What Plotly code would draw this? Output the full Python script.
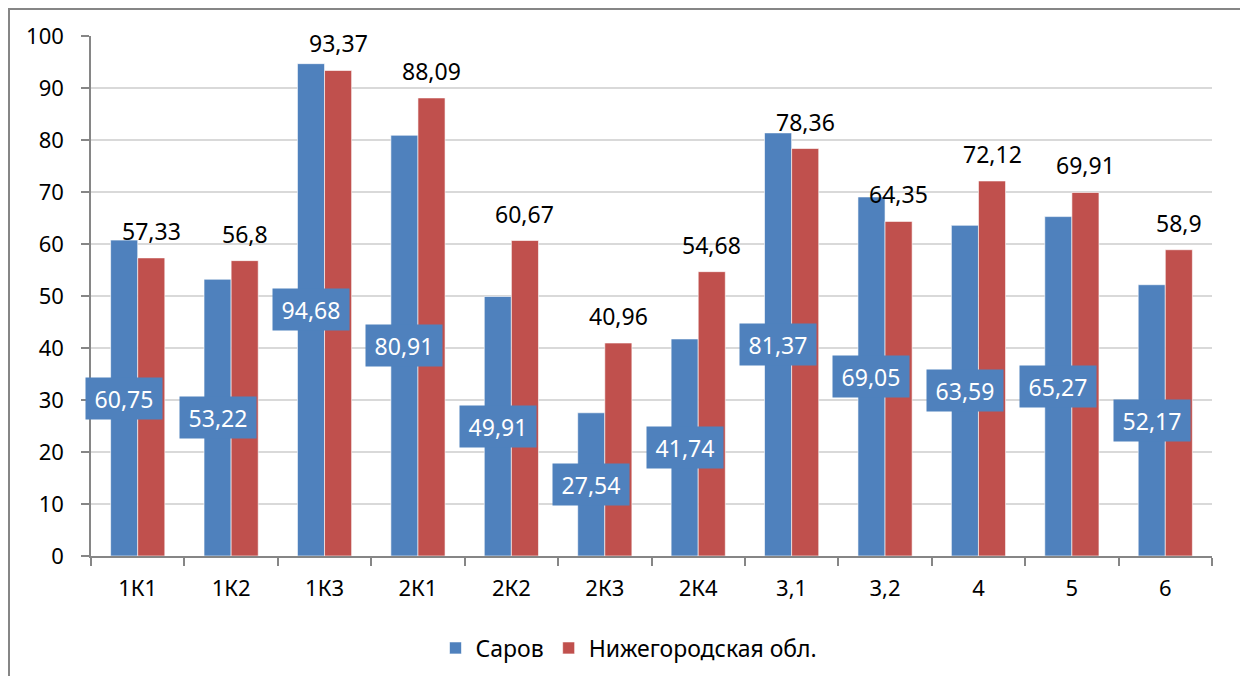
import plotly.graph_objects as go

categories = ["1К1", "1К2", "1К3", "2К1", "2К2", "2К3", "2К4", "3,1", "3,2", "4", "5", "6"]
sarov = [60.75, 53.22, 94.68, 80.91, 49.91, 27.54, 41.74, 81.37, 69.05, 63.59, 65.27, 52.17]
nizhny = [57.33, 56.8, 93.37, 88.09, 60.67, 40.96, 54.68, 78.36, 64.35, 72.12, 69.91, 58.9]
series_names = ["Саров", "Нижегородская обл."]
y_ticks = [0, 10, 20, 30, 40, 50, 60, 70, 80, 90, 100]

BLUE = "#4F81BD"
RED = "#C0504D"
FONT = "Noto Sans"
FS = 22
LFS = 23

# page has an 8px body margin; the figure is sized to fit inside the window
W, H = 1235, 668
L, T = 83, 28
pw, ph = 1121, 520
R = W - L - pw
B = H - T - ph
bargap = 0.42
cat_px = pw / len(categories)
bar_px = cat_px * (1 - bargap) / 2


def fmt(v):
    return ("%g" % v).replace(".", ",")


fig = go.Figure()
fig.add_trace(go.Bar(name=series_names[0], x=categories, y=sarov,
                     marker=dict(color=BLUE, line=dict(color="rgba(255,255,255,0.6)", width=1))))
fig.add_trace(go.Bar(name=series_names[1], x=categories, y=nizhny,
                     marker=dict(color=RED, line=dict(color="rgba(255,255,255,0.6)", width=1))))

annotations = []
for i, v in enumerate(sarov):
    annotations.append(dict(x=i, y=v / 2, xref="x", yref="y", text=fmt(v), showarrow=False,
                            xshift=-bar_px / 2, bgcolor=BLUE, borderpad=7, width=62, height=27,
                            font=dict(family=FONT, size=LFS, color="white")))
for i, v in enumerate(nizhny):
    annotations.append(dict(x=i, y=v, xref="x", yref="y", text=fmt(v), showarrow=False,
                            xshift=bar_px / 2, yshift=9, yanchor="bottom",
                            font=dict(family=FONT, size=LFS, color="black")))

fig.update_layout(
    width=W, height=H,
    margin=dict(l=L, r=R, t=T, b=B, autoexpand=False),
    paper_bgcolor="white", plot_bgcolor="white",
    barmode="group", bargap=bargap, bargroupgap=0,
    font=dict(family=FONT, size=FS, color="black"),
    annotations=annotations,
    legend=dict(orientation="h", xref="container", yref="container",
                x=621 / W, xanchor="center", y=1 - 640 / H, yanchor="middle",
                font=dict(family=FONT, size=23, color="black"), itemwidth=30),
    shapes=[dict(type="rect", xref="paper", yref="paper",
                 x0=(1 - L) / pw, x1=(W - 1 - L) / pw,
                 y0=(T + ph - H - 20) / ph, y1=(T + ph - 1) / ph,
                 line=dict(color="#868686", width=2), layer="below")],
    xaxis=dict(range=[-0.5, len(categories) - 0.5], showline=True, linecolor="#868686",
               linewidth=1.5, ticks="outside",
               tickson="boundaries", ticklen=8, tickcolor="#868686", tickwidth=1.5,
               showgrid=False, ticklabelstandoff=12, automargin=False),
    yaxis=dict(range=[0, 100], tickvals=y_ticks, showline=True, linecolor="#868686",
               linewidth=1.5, ticks="outside", ticklen=8, tickcolor="#868686", tickwidth=1.5,
               showgrid=True, gridcolor="#D9D9D9", gridwidth=1.5, zeroline=False,
               ticklabelstandoff=13, automargin=False),
)

fig.write_html("out.html")
